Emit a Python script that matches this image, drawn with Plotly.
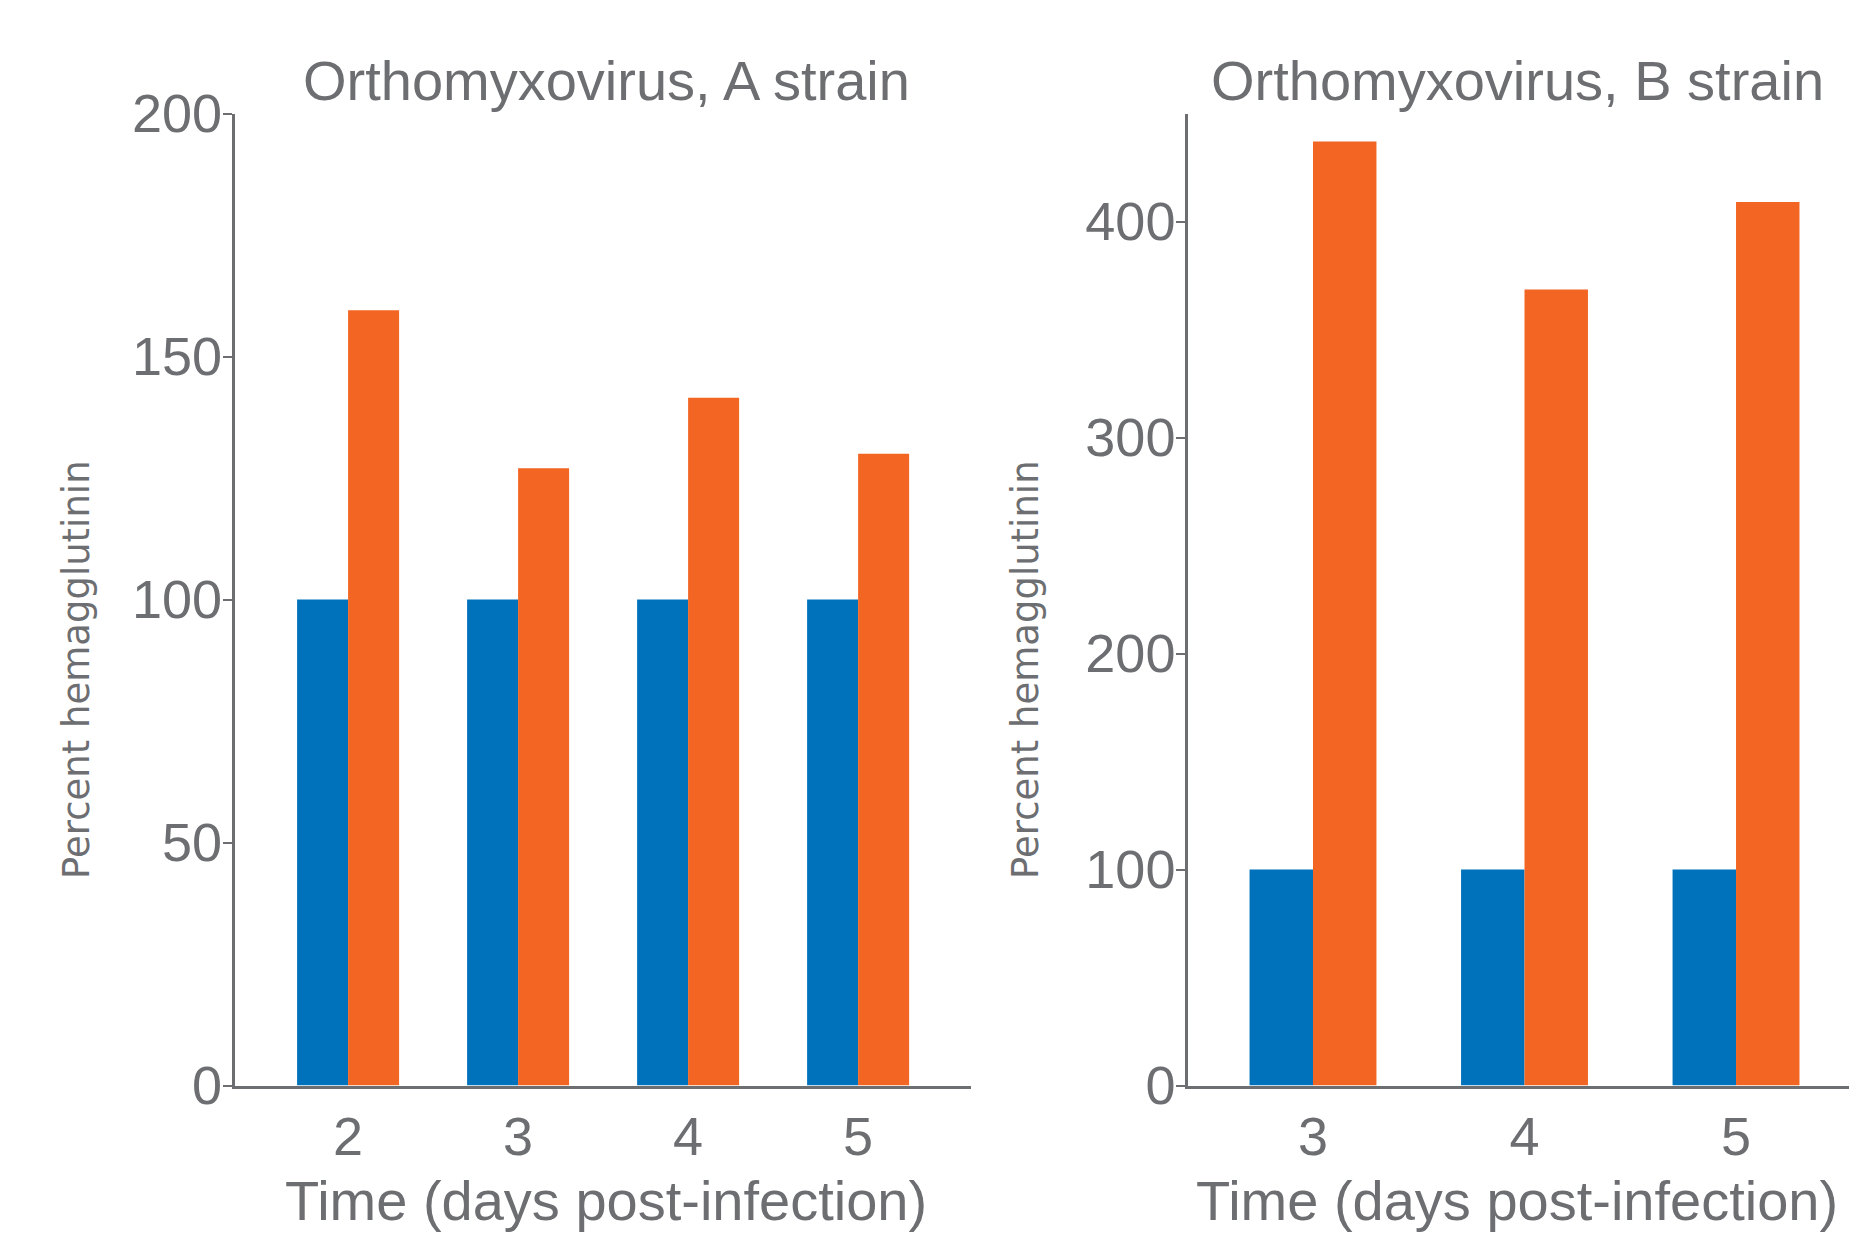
import plotly.graph_objects as go

# data
days_a = ["2", "3", "4", "5"]
control_a = [100, 100, 100, 100]
treated_a = [159.5, 127, 141.5, 130]

days_b = ["3", "4", "5"]
control_b = [100, 100, 100]
treated_b = [437, 368.5, 409]

BLUE = "#0072BC"
ORANGE = "#F26522"
GREY = "#6D6E71"
FONT = "Liberation Sans, Arial, sans-serif"

# the page puts the figure 8px in from the top-left corner
OFF = 8
W, H = 1857 - OFF, 1247 - OFF

def px(x):
    return (x - OFF) / W

def py(y):
    return 1 - (y - OFF) / H

fig = go.Figure()
fig.add_trace(go.Bar(x=days_a, y=control_a, marker_color=BLUE, xaxis="x", yaxis="y"))
fig.add_trace(go.Bar(x=days_a, y=treated_a, marker_color=ORANGE, xaxis="x", yaxis="y"))
fig.add_trace(go.Bar(x=days_b, y=control_b, marker_color=BLUE, xaxis="x2", yaxis="y2"))
fig.add_trace(go.Bar(x=days_b, y=treated_b, marker_color=ORANGE, xaxis="x2", yaxis="y2"))
fig.update_traces(marker_line_width=0, showlegend=False)

ydom = [py(1085.5), py(113.5)]

xax = dict(type="category", showline=True, linecolor=GREY, linewidth=2.5, ticks="",
           tickfont=dict(size=54, color=GREY, family=FONT), showgrid=False, zeroline=False,
           ticklabelstandoff=2, automargin=False)
yax = dict(showline=True, linecolor=GREY, linewidth=2.5, ticks="outside", ticklen=9,
           tickwidth=2, tickcolor=GREY, tickfont=dict(size=54, color=GREY, family=FONT),
           showgrid=False, zeroline=False, ticklabelstandoff=-10, automargin=False)

fig.update_layout(
    width=W, height=H, margin=dict(l=0, r=0, t=0, b=0, autoexpand=False),
    plot_bgcolor="white", paper_bgcolor="white",
    barmode="group", bargap=0.4, bargroupgap=0,
    xaxis=dict(xax, domain=[px(234.7), px(971)], range=[-0.667, 3.664], anchor="y"),
    yaxis=dict(yax, domain=ydom, range=[0, 200], dtick=50, anchor="x"),
    xaxis2=dict(xax, domain=[px(1188), 1.0], range=[-0.591, 2.572], anchor="y2"),
    yaxis2=dict(yax, domain=ydom, range=[0, 450], dtick=100, anchor="x2"),
)

def note(text, x, y, size, angle=0, family=FONT):
    fig.add_annotation(text=text, x=px(x), y=py(y), xref="paper", yref="paper",
                       showarrow=False, textangle=angle, xanchor="center", yanchor="middle",
                       font=dict(size=size, color=GREY, family=family))

note("Orthomyxovirus, A strain", 606, 80, 56)
note("Orthomyxovirus, B strain", 1517, 80, 56)
note("Time (days post-infection)", 606, 1200, 56)
note("Time (days post-infection)", 1517, 1200, 56)
note("Percent hemagglutinin", 76, 670, 37, -90, "DejaVu Sans")
note("Percent hemagglutinin", 1025, 670, 37, -90, "DejaVu Sans")

fig.write_html("out.html")
